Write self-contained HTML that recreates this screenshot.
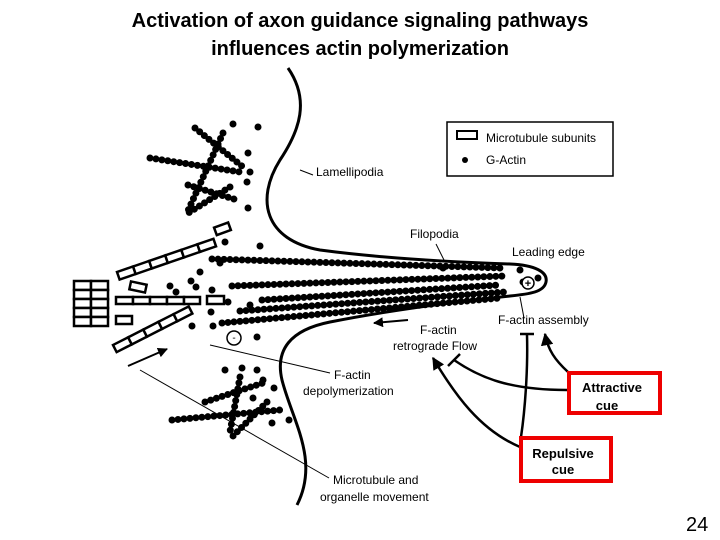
<!DOCTYPE html>
<html><head><style>
body{margin:0;background:#fff;}
svg{display:block;}
text{font-family:"Liberation Sans",Arial,sans-serif;}
</style></head><body>
<svg width="720" height="540" viewBox="0 0 720 540">
<defs>
<marker id="ah" viewBox="0 0 10 10" refX="9" refY="5" markerWidth="5" markerHeight="5" orient="auto"><path d="M0,0 L10,5 L0,10 z" fill="#000"/></marker>
</defs>
<rect width="720" height="540" fill="#fff"/>
<text x="360" y="27" font-size="20" font-weight="bold" text-anchor="middle">Activation of axon guidance signaling pathways</text>
<text x="360" y="55" font-size="20" font-weight="bold" text-anchor="middle">influences actin polymerization</text>

<rect x="447" y="122" width="166" height="54" fill="none" stroke="#000" stroke-width="1.5"/>
<rect x="457" y="131" width="20" height="8" fill="none" stroke="#000" stroke-width="2"/>
<text x="486" y="142" font-size="12">Microtubule subunits</text>
<circle cx="465" cy="160" r="3" fill="#000"/>
<text x="486" y="164" font-size="12">G-Actin</text>

<g fill="none" stroke="#000" stroke-width="3">
<path d="M288,68 C310,100 300,130 280,160 C255,200 265,240 320,250 C380,258 450,262 510,264 C535,265 548,272 546,282 C544,292 530,294 510,296 C450,302 380,312 330,322 C290,330 275,350 282,380 C292,420 320,460 297,505"/>
</g>
<g fill="none" stroke="#000" stroke-width="7" stroke-linecap="round" stroke-dasharray="0 6">
<path d="M212,259 L500,268"/>
<path d="M232,286 L505,276"/>
<path d="M262,300 L500,285"/>
<path d="M240,311 L505,292"/>
<path d="M222,323 L500,298"/>
<path d="M150,158 L240,172"/>
<path d="M195,128 L243,167"/>
<path d="M223,133 L187,213"/>
<path d="M188,185 L237,200"/>
<path d="M230,187 L185,215"/>
<path d="M172,420 L280,410"/>
<path d="M205,402 L263,383"/>
<path d="M240,377 L230,432"/>
<path d="M267,402 L232,437"/>
</g>
<g fill="#000">
<circle cx="233" cy="124" r="3.5"/><circle cx="258" cy="127" r="3.5"/><circle cx="248" cy="153" r="3.5"/><circle cx="250" cy="172" r="3.5"/><circle cx="247" cy="182" r="3.5"/><circle cx="248" cy="208" r="3.5"/><circle cx="225" cy="242" r="3.5"/><circle cx="260" cy="246" r="3.5"/><circle cx="200" cy="272" r="3.5"/><circle cx="191" cy="281" r="3.5"/><circle cx="170" cy="286" r="3.5"/><circle cx="212" cy="290" r="3.5"/><circle cx="196" cy="287" r="3.5"/><circle cx="176" cy="292" r="3.5"/><circle cx="228" cy="302" r="3.5"/><circle cx="250" cy="305" r="3.5"/><circle cx="211" cy="312" r="3.5"/><circle cx="192" cy="326" r="3.5"/><circle cx="213" cy="326" r="3.5"/><circle cx="257" cy="337" r="3.5"/><circle cx="220" cy="263" r="3.5"/>
<circle cx="225" cy="370" r="3.5"/><circle cx="242" cy="368" r="3.5"/><circle cx="257" cy="370" r="3.5"/><circle cx="263" cy="380" r="3.5"/><circle cx="274" cy="388" r="3.5"/><circle cx="253" cy="398" r="3.5"/><circle cx="272" cy="423" r="3.5"/><circle cx="289" cy="420" r="3.5"/>
<circle cx="443" cy="268" r="3.5"/><circle cx="520" cy="270" r="3.5"/><circle cx="523" cy="282" r="3.5"/><circle cx="538" cy="278" r="3.5"/>
</g>
<circle cx="528" cy="283" r="6" fill="#fff" stroke="#000" stroke-width="1.5"/>
<text x="528" y="287" font-size="11" text-anchor="middle" font-weight="bold">+</text>
<circle cx="234" cy="338" r="7" fill="#fff" stroke="#000" stroke-width="1.5"/>
<text x="234" y="341" font-size="10" text-anchor="middle">-</text>

<g fill="#fff" stroke="#000" stroke-width="2.5">
<rect x="74" y="281" width="17" height="9"/><rect x="91" y="281" width="17" height="9"/>
<rect x="74" y="290" width="17" height="9"/><rect x="91" y="290" width="17" height="9"/>
<rect x="74" y="299" width="17" height="9"/><rect x="91" y="299" width="17" height="9"/>
<rect x="74" y="308" width="17" height="9"/><rect x="91" y="308" width="17" height="9"/>
<rect x="74" y="317" width="17" height="9"/><rect x="91" y="317" width="17" height="9"/>
<g transform="translate(117,272) rotate(-19)"><rect x="0" y="0" width="17" height="8"/><rect x="17" y="0" width="17" height="8"/><rect x="34" y="0" width="17" height="8"/><rect x="51" y="0" width="17" height="8"/><rect x="68" y="0" width="17" height="8"/><rect x="85" y="0" width="17" height="8"/></g>
<rect x="116" y="297" width="17" height="7"/><rect x="133" y="297" width="17" height="7"/><rect x="150" y="297" width="17" height="7"/><rect x="167" y="297" width="17" height="7"/><rect x="184" y="297" width="16" height="7"/>
<rect x="207" y="296" width="17" height="8"/>
<rect x="116" y="316" width="16" height="8"/>
<rect x="130" y="283" width="16" height="8" transform="rotate(12 138 287)"/>
<rect x="215" y="225" width="15" height="8" transform="rotate(-20 222 229)"/>
<g transform="translate(113,345) rotate(-27)"><rect x="0" y="0" width="17" height="8"/><rect x="17" y="0" width="17" height="8"/><rect x="34" y="0" width="17" height="8"/><rect x="51" y="0" width="17" height="8"/><rect x="68" y="0" width="17" height="8"/></g>
</g>

<g fill="none" stroke="#000" stroke-width="1">
<path d="M300,170 L313,175"/>
<path d="M436,244 L445,262"/>
<path d="M520,297 L524,318"/>
<path d="M210,345 L330,373"/>
<path d="M140,370 L329,478"/>
</g>
<path d="M128,366 L167,349" stroke="#000" stroke-width="2" fill="none" marker-end="url(#ah)"/>
<path d="M408,320 L374,323" stroke="#000" stroke-width="2" fill="none" marker-end="url(#ah)"/>

<g font-size="12">
<text x="316" y="176">Lamellipodia</text>
<text x="410" y="238">Filopodia</text>
<text x="512" y="256">Leading edge</text>
<text x="498" y="324">F-actin assembly</text>
<text x="420" y="334">F-actin</text>
<text x="393" y="350">retrograde Flow</text>
<text x="334" y="379">F-actin</text>
<text x="303" y="395">depolymerization</text>
<text x="333" y="484">Microtubule and</text>
<text x="320" y="501">organelle movement</text>
</g>

<g fill="none" stroke="#000" stroke-width="2.5">
<path d="M568,372 C555,360 548,350 545,334" marker-end="url(#ah)"/>
<path d="M567,390 C510,390 480,378 454,360"/>
<path d="M448,366 L460,354"/>
<path d="M521,437 C525,410 528,370 527,335"/>
<path d="M520,334 L534,334"/>
<path d="M520,447 C480,430 455,395 433,358" marker-end="url(#ah)"/>
</g>

<rect x="569" y="373" width="91" height="40" fill="#fff" stroke="#e00" stroke-width="4"/>
<text x="612" y="392" font-size="13" font-weight="bold" text-anchor="middle">Attractive</text>
<text x="607" y="410" font-size="13" font-weight="bold" text-anchor="middle">cue</text>
<rect x="521" y="438" width="90" height="43" fill="#fff" stroke="#e00" stroke-width="4"/>
<text x="563" y="458" font-size="13" font-weight="bold" text-anchor="middle">Repulsive</text>
<text x="563" y="474" font-size="13" font-weight="bold" text-anchor="middle">cue</text>

<text x="686" y="531" font-size="20">24</text>
</svg>
</body></html>
